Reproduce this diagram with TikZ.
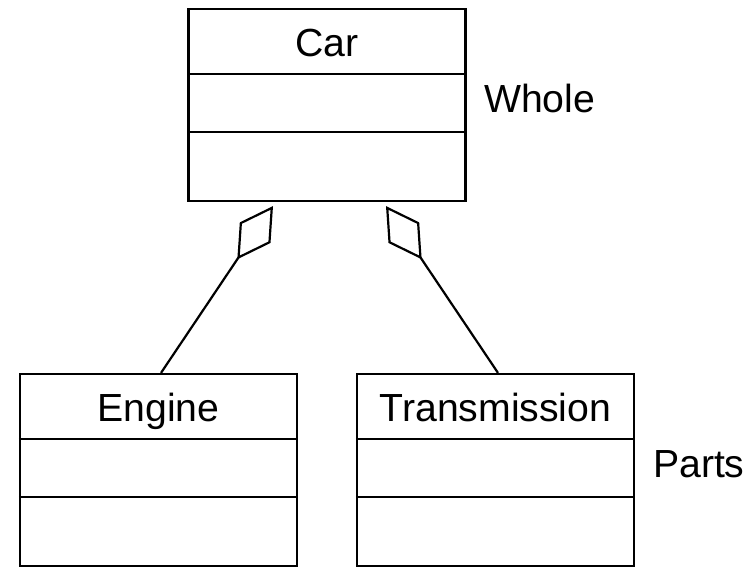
\documentclass[tikz,border=0pt]{standalone}
\usepackage{fontspec}
\setmainfont{Liberation Sans}
\usetikzlibrary{arrows.meta}
\begin{document}
\begin{tikzpicture}[x=1pt,y=-1pt,
  line width=2.2pt,
  classbox/.style={draw, rectangle, inner sep=0pt, minimum width=277pt, minimum height=192pt},
  lbl/.style={inner sep=0pt, font=\fontsize{39.2}{40}\selectfont},
  aggr/.style={-{Diamond[open, length=64pt, width=37pt]}, line join=miter}
]
\useasboundingbox (0,0) rectangle (756,567);
% Classes
\node[classbox] (car) at (327,105) {};
\node[classbox] (engine) at (158.5,470) {};
\node[classbox] (trans) at (495.5,470) {};
% compartment dividers
\foreach \n in {car,engine,trans}{
  \draw ([yshift=-66pt]\n.north west) -- ([yshift=-66pt]\n.north east);
  \draw ([yshift=-124pt]\n.north west) -- ([yshift=-124pt]\n.north east);
}
% names
\node[lbl, anchor=base] (carname) at ([yshift=-49pt]car.north) {Car};
\node[lbl, anchor=base] (engname) at ([yshift=-49pt]engine.north) {Engine};
\node[lbl, anchor=base] (trname) at ([yshift=-49pt]trans.north) {Transmission};
% labels
\node[lbl, anchor=base west] (whole) at (483,113) {Whole};
\node[lbl, anchor=base west] (parts) at (652,477) {Parts};
% aggregation connectors
\coordinate (tipA) at ([xshift=-54pt, yshift=-4pt]car.south);
\coordinate (tipB) at ([xshift=59pt, yshift=-4pt]car.south);
\draw[aggr] ([xshift=2.5pt]engine.north) -- (tipA);
\draw[aggr] ([xshift=2.5pt]trans.north) -- (tipB);
\end{tikzpicture}
\end{document}
